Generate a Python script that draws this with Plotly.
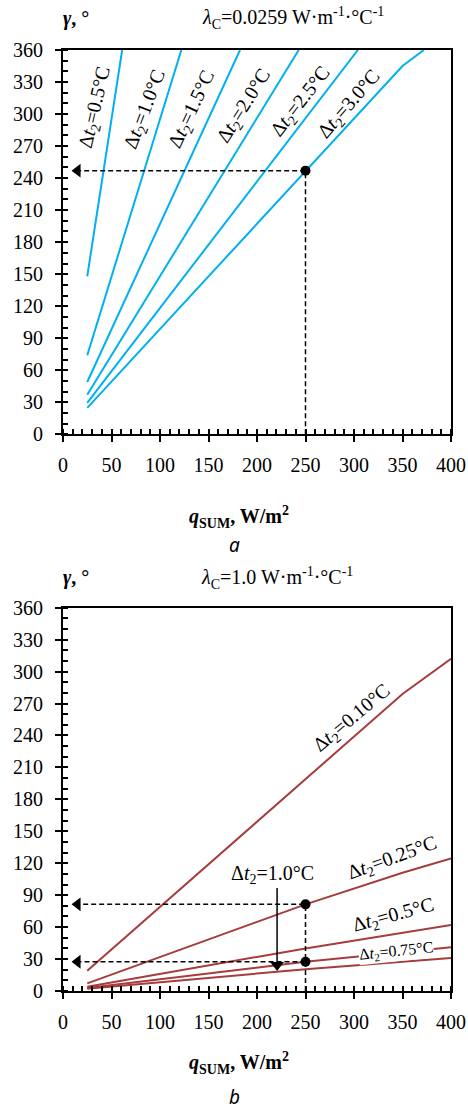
import plotly.graph_objects as go

# ---------------- data ----------------
# Chart a: lambda_C = 0.0259 ; lines end where they leave the 360 deg frame
a_labels = ["0.5", "1.0", "1.5", "2.0", "2.5", "3.0"]
a_q = [
    [25, 61],
    [25, 122],
    [25, 182.5],
    [25, 243],
    [25, 304],
    [25, 250, 350, 372],
]
a_gamma = [
    [148, 360],
    [74, 360],
    [49, 360],
    [37, 360],
    [29.5, 360],
    [24.7, 247, 345, 360],
]
a_label_q = [33.4, 85, 133.3, 186.7, 245.3, 295.2]
a_label_g = [306, 304, 304, 307, 312, 308.7]
a_label_angle = [-77, -69, -65, -58, -52, -49]

# Chart b: lambda_C = 1.0
b_labels = ["0.10", "0.25", "0.5", "0.75", "1.0"]
b_q = [
    [25, 350, 400],
    [25, 250, 350, 400],
    [25, 250, 400],
    [25, 250, 400],
    [25, 250, 400],
]
b_gamma = [
    [19, 279, 312],
    [7.2, 81.4, 111, 124.6],
    [4, 40, 62],
    [2.8, 27.5, 41],
    [2, 20.5, 31],
]

# reading guides
a_guide_q, a_guide_g = 250, 247
b_guide_q, b_guide_g = 250, [81.4, 27.5]
arrow_q = 15
b_arrow_q, b_arrow_top, b_arrow_tip = 220.7, 96.7, 24.5

x_ticks = [0, 50, 100, 150, 200, 250, 300, 350, 400]
y_ticks = list(range(0, 361, 30))

CYAN = "#00B0F0"
BROWN = "#A63C3C"
SERIF = "Liberation Serif"

fig = go.Figure()

# ---- chart a lines
for q, g in zip(a_q, a_gamma):
    fig.add_trace(go.Scatter(x=q, y=g, mode="lines", line=dict(color=CYAN, width=2),
                             xaxis="x", yaxis="y", showlegend=False, hoverinfo="skip"))
# guides a
fig.add_trace(go.Scatter(x=[a_guide_q, a_guide_q, arrow_q], y=[0, a_guide_g, a_guide_g],
                         mode="lines", line=dict(color="black", width=1.5, dash="5px,3px"),
                         xaxis="x", yaxis="y", showlegend=False))
fig.add_trace(go.Scatter(x=[a_guide_q], y=[a_guide_g], mode="markers",
                         marker=dict(color="black", size=10), xaxis="x", yaxis="y", showlegend=False))
fig.add_trace(go.Scatter(x=[arrow_q], y=[a_guide_g], mode="markers",
                         marker=dict(color="black", size=12, symbol="triangle-left"),
                         xaxis="x", yaxis="y", showlegend=False))

# ---- chart b lines
for q, g in zip(b_q, b_gamma):
    fig.add_trace(go.Scatter(x=q, y=g, mode="lines", line=dict(color=BROWN, width=2),
                             xaxis="x2", yaxis="y2", showlegend=False, hoverinfo="skip"))
fig.add_trace(go.Scatter(x=[b_guide_q, b_guide_q, arrow_q], y=[0, b_guide_g[0], b_guide_g[0]],
                         mode="lines", line=dict(color="black", width=1.5, dash="5px,3px"),
                         xaxis="x2", yaxis="y2", showlegend=False))
fig.add_trace(go.Scatter(x=[b_guide_q, arrow_q], y=[b_guide_g[1], b_guide_g[1]],
                         mode="lines", line=dict(color="black", width=1.5, dash="5px,3px"),
                         xaxis="x2", yaxis="y2", showlegend=False))
fig.add_trace(go.Scatter(x=[b_guide_q, b_guide_q], y=b_guide_g, mode="markers",
                         marker=dict(color="black", size=10), xaxis="x2", yaxis="y2", showlegend=False))
fig.add_trace(go.Scatter(x=[arrow_q, arrow_q], y=b_guide_g, mode="markers",
                         marker=dict(color="black", size=12, symbol="triangle-left"),
                         xaxis="x2", yaxis="y2", showlegend=False))
fig.add_trace(go.Scatter(x=[b_arrow_q, b_arrow_q], y=[b_arrow_top, b_arrow_tip], mode="lines",
                         line=dict(color="black", width=1.5), xaxis="x2", yaxis="y2", showlegend=False))
fig.add_trace(go.Scatter(x=[b_arrow_q], y=[b_arrow_tip], mode="markers",
                         marker=dict(color="black", size=12, symbol="triangle-down"),
                         xaxis="x2", yaxis="y2", showlegend=False))

# dummy traces for overlay (inside tick) axes
fig.add_trace(go.Scatter(x=[None], y=[None], xaxis="x3", yaxis="y3", showlegend=False))
fig.add_trace(go.Scatter(x=[None], y=[None], xaxis="x4", yaxis="y4", showlegend=False))

TOP_DOM = [0.5916, 1.0]
BOT_DOM = [0.0, 0.4073]

TFONT = dict(family=SERIF, size=20, color="black")

def main_x(anchor):
    return dict(range=[0, 400], tickvals=x_ticks, ticktext=[str(v) for v in x_ticks],
                ticks="outside", ticklen=6, tickwidth=1.5,
                tickcolor="black", showline=True, linecolor="black", linewidth=2, mirror=True,
                showgrid=False, zeroline=False, anchor=anchor, automargin=False,
                tickfont=TFONT,
                minor=dict(dtick=10, tick0=0, ticks="inside", ticklen=5, tickwidth=1.5, tickcolor="black"),
                ticklabelstandoff=6)

def main_y(anchor, dom):
    return dict(range=[0, 360], tickvals=y_ticks, ticktext=[str(v) for v in y_ticks],
                ticks="outside", ticklen=6, tickwidth=1.5,
                tickcolor="black", showline=True, linecolor="black", linewidth=2, mirror=True,
                showgrid=False, zeroline=False, anchor=anchor, domain=dom, automargin=False,
                tickfont=TFONT,
                minor=dict(dtick=10, tick0=0, ticks="inside", ticklen=5, tickwidth=1.5, tickcolor="black"),
                ticklabelstandoff=8)

def over_x(ov, anchor):
    return dict(range=[0, 400], tickvals=x_ticks, ticks="inside", ticklen=5, tickwidth=1.5,
                tickcolor="black", showticklabels=False, showline=False, showgrid=False,
                zeroline=False, overlaying=ov, anchor=anchor, automargin=False)

def over_y(ov, anchor, dom):
    return dict(range=[0, 360], tickvals=y_ticks, ticks="inside", ticklen=5, tickwidth=1.5,
                tickcolor="black", showticklabels=False, showline=False, showgrid=False,
                zeroline=False, overlaying=ov, anchor=anchor, domain=dom, automargin=False)

ann = []
# line labels chart a
for lab, qx, gy, ang in zip(a_labels, a_label_q, a_label_g, a_label_angle):
    ann.append(dict(x=qx, y=gy, xref="x", yref="y", showarrow=False, textangle=ang,
                    xanchor="center", yanchor="middle",
                    text=f"Δ<i>t</i><sub>2</sub>={lab}°C",
                    font=dict(family=SERIF, size=20, color="black")))

# line labels chart b
b_lab_pos = [(298, 255.5, -40, 20), (339.6, 124, -20, 20), (341, 70.7, -15, 20), (343, 37.5, -6, 16)]
for lab, (qx, gy, ang, fs) in zip(b_labels[:4], b_lab_pos):
    d = dict(x=qx, y=gy, xref="x2", yref="y2", showarrow=False, textangle=ang,
             xanchor="center", yanchor="middle",
             text=f"Δ<i>t</i><sub>2</sub>={lab}°C",
             font=dict(family=SERIF, size=fs, color="black"))
    if lab == "0.75":
        d["bgcolor"] = "white"
        d["borderpad"] = 0
    ann.append(d)
ann.append(dict(x=215.5, y=109, xref="x2", yref="y2", showarrow=False,
                xanchor="center", yanchor="middle",
                text="Δ<i>t</i><sub>2</sub>=1.0°C", font=dict(family=SERIF, size=20, color="black")))

# headers
for ytop, lam, lx in [(1.034, "0.0259", 0.593), (0.4389, "1.0", 0.551)]:
    ann.append(dict(x=0.0335, y=ytop, xref="paper", yref="paper", showarrow=False,
                    xanchor="center", yanchor="middle",
                    text="<b><i>γ</i>, °</b>", font=dict(family=SERIF, size=20, color="black")))
    ann.append(dict(x=lx, y=ytop, xref="paper", yref="paper", showarrow=False,
                    xanchor="center", yanchor="middle",
                    text=f"<i>λ</i><sub>C</sub>={lam} W·m<sup>-1</sup>·°C<sup>-1</sup>",
                    font=dict(family=SERIF, size=20, color="black")))
# axis titles and panel letters
for yt, yl, letter in [(0.504, 0.474, "a"), (-0.0765, -0.1126, "b")]:
    ann.append(dict(x=0.4536, y=yt, xref="paper", yref="paper", showarrow=False,
                    xanchor="center", yanchor="middle",
                    text="<b><i>q</i><sub>SUM</sub>, W/m<sup>2</sup></b>",
                    font=dict(family=SERIF, size=20, color="black")))
    ann.append(dict(x=0.443, y=yl, xref="paper", yref="paper", showarrow=False,
                    xanchor="center", yanchor="middle",
                    text=f"<i>{letter}</i>", font=dict(family="Noto Sans", size=19, color="black")))

fig.update_layout(
    width=468, height=1109,
    margin=dict(l=63, r=17, t=50, b=118, autoexpand=False),
    paper_bgcolor="white", plot_bgcolor="white",
    font=dict(family=SERIF, size=20, color="black"),
    showlegend=False,
    xaxis=main_x("y"),
    yaxis=main_y("x", TOP_DOM),
    xaxis2=main_x("y2"),
    yaxis2=main_y("x2", BOT_DOM),
    xaxis3=over_x("x", "y3"),
    yaxis3=over_y("y", "x3", TOP_DOM),
    xaxis4=over_x("x2", "y4"),
    yaxis4=over_y("y2", "x4", BOT_DOM),
    annotations=ann,
)

fig.write_html("out.html")
